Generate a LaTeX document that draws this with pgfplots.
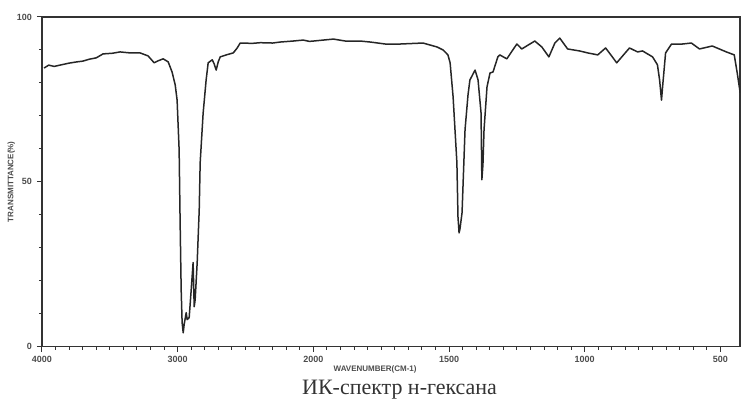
\documentclass[border=0pt]{standalone}
\usepackage{fontspec}
\setmainfont{Liberation Serif}
\setsansfont{Liberation Sans}
\usepackage{pgfplots}
\pgfplotsset{compat=1.18}

% IR spectrum of n-hexane: wavenumber (cm-1), transmittance (%)
\pgfplotstableread{
wn T
3985 84.5
3950 85.4
3910 85.0
3867 85.4
3800 86.0
3740 86.4
3700 86.6
3650 87.2
3600 87.6
3550 88.8
3480 89.0
3424 89.4
3350 89.1
3277 89.1
3218 88.2
3173 86.1
3144 86.7
3107 87.3
3070 86.4
3041 83.3
3018 79.4
3004 74.8
2989 59.7
2982 38.5
2974 17.3
2967 7.3
2959 4.2
2952 6.7
2937 10.3
2930 8.2
2915 8.8
2900 17.3
2886 25.5
2878 12.1
2871 14.2
2856 25.5
2841 41.5
2834 55.8
2812 70.9
2790 80.9
2775 86.1
2745 87.0
2731 85.8
2716 83.9
2701 86.4
2686 87.9
2642 88.5
2590 89.1
2561 90.6
2539 92.1
2450 92.0
2391 92.2
2300 92.1
2244 92.4
2150 92.7
2074 93.0
2030 92.6
2000 92.7
1926 93.3
1882 92.7
1827 92.7
1790 92.4
1735 91.8
1680 91.8
1596 92.1
1544 90.9
1522 90.0
1504 88.5
1496 86.1
1485 75.8
1471 55.8
1467 39.4
1463 34.5
1460 35.5
1452 40.6
1441 65.8
1430 76.4
1423 80.9
1404 83.9
1393 80.9
1382 70.9
1379 50.6
1375 55.2
1371 65.8
1360 78.8
1349 83.0
1338 83.3
1320 87.9
1313 88.5
1287 87.3
1265 90.0
1250 91.8
1232 90.3
1184 92.7
1158 90.9
1132 87.9
1110 92.1
1092 93.6
1063 90.3
1019 89.7
989 89.1
952 88.5
923 90.6
882 86.1
835 90.6
805 89.4
787 89.7
750 87.9
732 85.5
724 80.9
717 74.8
713 78.8
702 89.1
680 91.8
640 91.8
607 92.1
577 90.3
530 91.2
478 89.4
449 88.5
438 83.0
427 77.0
}\spectrum

\begin{document}
\begin{tikzpicture}
\begin{axis}[
	scale only axis,
	width=349.5pt,
	height=165pt,
	at={(0,0)}, anchor=south west,
	% scale doubles below 2000 cm-1
	x coord trafo/.code={\pgfmathparse{#1>=2000 ? (4000-#1)/1000 : 2+(2000-#1)/500}},
	xmin=4000, xmax=427,
	ymin=0, ymax=100,
	xtick={4000,3000,2000,1500,1000,500},
	xticklabels={4000,3000,2000,1500,1000,500},
	minor x tick num=9,
	ytick={0,50,100},
	minor y tick num=4,
	tick align=outside,
	xtick pos=bottom, ytick pos=left,
	major tick length=2.5pt, minor tick length=1.5pt,
	axis line style={line width=0.8pt, black!80},
	every tick/.style={black!80, line width=0.5pt},
	tick label style={font=\sffamily\bfseries\fontsize{4.5}{5}\selectfont, text=black!70},
	/pgf/number format/assume math mode=true,
	xticklabel style={yshift=1pt},
	yticklabel style={xshift=1pt},
	xlabel={WAVENUMBER(CM-1)},
	ylabel={TRANSMITTANCE(\%)},
	label style={font=\sffamily\bfseries\fontsize{4}{5}\selectfont, text=black!70},
	xlabel style={at={(rel axis cs:0.5,0)}, anchor=north, yshift=-6pt, xshift=-8pt},
	ylabel style={at={(rel axis cs:0,0.5)}, yshift=10pt},
	clip=true,
]
\addplot[line width=0.75pt, black!85, line join=round] table[x=wn, y=T] {\spectrum};
\end{axis}
\path (-21pt,-30.5pt) rectangle (349.5pt,173.5pt);
\node[font=\fontsize{11}{13}\selectfont, text=black!80] at (179pt,-21.5pt) {ИК-спектр н-гексана};
\end{tikzpicture}
\end{document}
